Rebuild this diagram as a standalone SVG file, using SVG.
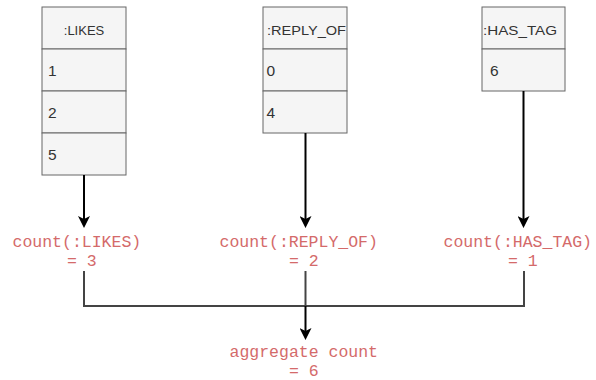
<svg xmlns="http://www.w3.org/2000/svg" width="596" height="380" viewBox="0 0 596 380">
  <style>
    .cell { fill: #f5f5f5; stroke: #666666; stroke-width: 1; }
    .head { font-family: "Liberation Sans", Arial, sans-serif; font-size: 13px; fill: #333333; }
    .val { font-family: "Liberation Sans", Arial, sans-serif; font-size: 15.5px; fill: #333333; }
    .lbl { font-family: "Liberation Mono", "Courier New", monospace; font-size: 16.5px; fill: #d46a6a; }
    .arrow { fill: none; stroke: #000000; stroke-width: 2; marker-end: url(#head); }
    .join { fill: none; stroke: #444444; stroke-width: 2; }
  </style>
  <defs>
    <marker id="head" viewBox="0 0 12 12" markerUnits="userSpaceOnUse" markerWidth="12" markerHeight="12" refX="4" refY="6" orient="auto">
      <path d="M0,0 L12,6 L0,12 L3,6 z" fill="#000000"/>
    </marker>
  </defs>

  <rect width="596" height="380" fill="#ffffff"/>

  <!-- :LIKES table -->
  <g id="likes">
    <rect class="cell" x="42" y="7" width="84" height="42"/>
    <rect class="cell" x="42" y="49" width="84" height="42"/>
    <rect class="cell" x="42" y="91" width="84" height="42"/>
    <rect class="cell" x="42" y="133" width="84" height="42"/>
    <text class="head" x="84" y="35" text-anchor="middle">:LIKES</text>
    <text class="val" x="48" y="76">1</text>
    <text class="val" x="48" y="118">2</text>
    <text class="val" x="48" y="160">5</text>
  </g>

  <!-- :REPLY_OF table -->
  <g id="reply_of">
    <rect class="cell" x="263" y="7" width="84" height="42"/>
    <rect class="cell" x="263" y="49" width="84" height="42"/>
    <rect class="cell" x="263" y="91" width="84" height="42"/>
    <text class="head" x="267" y="35" textLength="79" lengthAdjust="spacingAndGlyphs">:REPLY_OF</text>
    <text class="val" x="266.5" y="76">0</text>
    <text class="val" x="266.5" y="118">4</text>
  </g>

  <!-- :HAS_TAG table -->
  <g id="has_tag">
    <rect class="cell" x="482" y="7" width="83" height="42"/>
    <rect class="cell" x="482" y="49" width="83" height="42"/>
    <text class="head" x="483" y="35" textLength="74" lengthAdjust="spacingAndGlyphs">:HAS_TAG</text>
    <text class="val" x="490" y="76">6</text>
  </g>

  <!-- count labels -->
  <g id="count_likes">
    <text class="lbl" x="12.5" y="246.5">count(:LIKES)</text>
    <text class="lbl" x="67" y="266">= 3</text>
  </g>
  <g id="count_reply_of">
    <text class="lbl" x="219.5" y="246.5">count(:REPLY_OF)</text>
    <text class="lbl" x="289" y="266">= 2</text>
  </g>
  <g id="count_has_tag">
    <text class="lbl" x="443.5" y="246.5">count(:HAS_TAG)</text>
    <text class="lbl" x="508" y="266">= 1</text>
  </g>
  <g id="aggregate">
    <text class="lbl" x="229.5" y="356.5">aggregate count</text>
    <text class="lbl" x="289" y="376">= 6</text>
  </g>

  <!-- connectors -->
  <g id="connectors">
    <path class="arrow" d="M84,175 L84,220"/>
    <path class="arrow" d="M305.5,133 L305.5,220"/>
    <path class="arrow" d="M523.5,91 L523.5,220"/>
    <path class="join" d="M84,271 L84,306 L524,306 L524,271"/>
    <path class="join" d="M305.5,271 L305.5,306"/>
    <path class="arrow" d="M305.5,306 L305.5,332"/>
  </g>
</svg>
